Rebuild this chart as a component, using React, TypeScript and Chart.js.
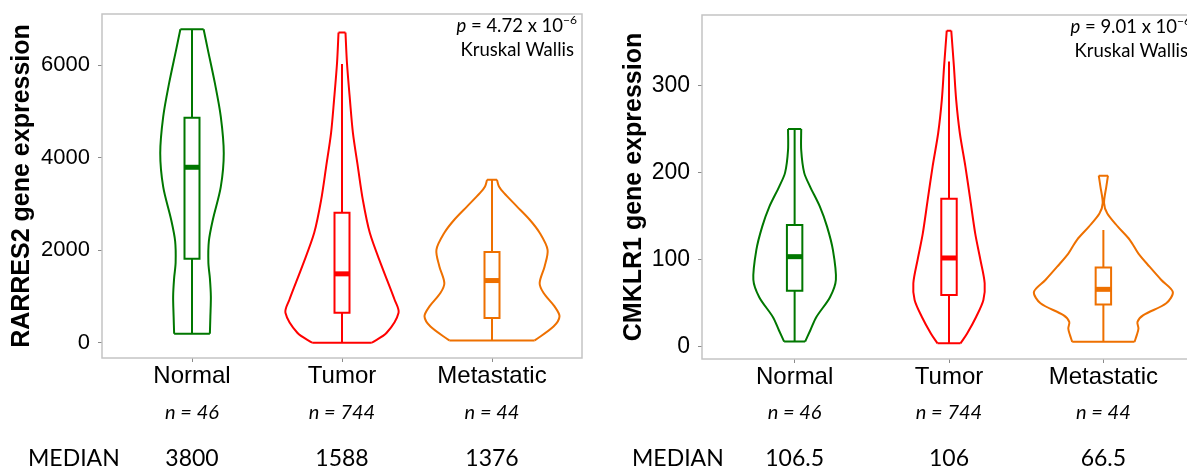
import React, { useEffect, useRef } from "react";
import { Chart, registerables } from "chart.js";

Chart.register(...registerables);

// ---------- shared categories ----------
const categories = ["Normal", "Tumor", "Metastatic"];
const sampleCounts = ["n = 46", "n = 744", "n = 44"];
const groupColors = ["#007700", "#ff0000", "#ee7000"];

// ---------- RARRES2 (left) ----------
const rarresTicks = [0, 2000, 4000, 6000];
const rarresMedianLabels = ["3800", "1588", "1376"];
const rarresPMantissa = "4.72";
const rarresPExponent = "−6";

const rarresNormalLevels = [195, 560, 1000, 1400, 1730, 2200, 2660, 3370, 4100, 4890, 5620, 6335, 6780];
const rarresNormalDensity = [18, 18.5, 19, 18, 16.5, 17, 21, 29, 32, 29, 23, 16, 11.7];
const rarresTumorLevels = [0, 216, 649, 930, 1657, 2378, 3090, 3805, 4540, 5254, 6050, 6710];
const rarresTumorDensity = [30, 45, 57, 53, 40, 28, 21, 16, 11, 8, 5, 3.5];
const rarresMetaLevels = [50, 350, 570, 786, 1075, 1290, 1650, 2010, 2378, 2660, 2950, 3240, 3380, 3524];
const rarresMetaDensity = [43, 62, 68, 63, 52, 48, 53, 56, 48, 38, 25, 12, 7, 5];

// [lower whisker, Q1, median, Q3, upper whisker]
const rarresNormalBox = [195, 1816, 3795, 4865, 6780];
const rarresTumorBox = [0, 650, 1490, 2811, 6030];
const rarresMetaBox = [50, 534, 1345, 1960, 3524];

// ---------- CMKLR1 (right) ----------
const cmklrTicks = [0, 100, 200, 300];
const cmklrMedianLabels = ["106.5", "106", "66.5"];
const cmklrPMantissa = "9.01";
const cmklrPExponent = "−6";

const cmklrNormalLevels = [6, 19, 34, 57, 77, 111, 138, 161, 184, 200, 226, 250];
const cmklrNormalDensity = [10.7, 16, 22, 36, 42, 39, 33, 25.7, 15.7, 9.7, 6.7, 6.7];
const cmklrTumorLevels = [4, 15, 34.5, 53.7, 73, 99.7, 130, 168.6, 207, 245.5, 283.5, 322, 363];
const cmklrTumorDensity = [11.7, 18.3, 27.7, 35, 36.3, 32, 26.7, 21.7, 16.7, 11, 7.3, 5, 2.3];
const cmklrMetaLevels = [5.7, 13.4, 21, 28.7, 36.4, 50, 63, 76.7, 92, 107, 122.6, 138, 153, 165, 184, 196.5];
const cmklrMetaDensity = [31.7, 34, 35.7, 34.7, 40.7, 64, 70.7, 59, 47, 35.7, 27, 14.7, 4, 0.7, 3, 4.7];

const cmklrNormalBox = [6, 64.4, 103.5, 140, 250];
const cmklrTumorBox = [4, 59.4, 102, 170, 327.6];
const cmklrMetaBox = [5.7, 48.7, 66, 91, 134];

// ---------- styling constants ----------
const VIOLIN_HALF = 0.45;
const BOX_HALF = 0.05;
const SANS = "'Liberation Sans', Arial, sans-serif";
const NOTE = "Lato, 'Open Sans', sans-serif";

type Pt = { x: number; y: number | null };

function violinDatasets(center: number, levels: number[], dens: number[], maxD: number, color: string) {
  const w = dens.map((d) => (d / maxD) * VIOLIN_HALF);
  const right: Pt[] = levels.map((y, i) => ({ x: center + w[i], y }));
  const left: Pt[] = levels.map((y, i) => ({ x: center - w[i], y }));
  const n = levels.length - 1;
  const base = {
    type: "scatter" as const,
    showLine: true,
    pointRadius: 0,
    pointHoverRadius: 0,
    borderColor: color,
    borderWidth: 2,
    fill: false,
    spanGaps: false,
  };
  return [
    { ...base, data: [...right, { x: center, y: null }, ...left], tension: 0.3 },
    {
      ...base,
      tension: 0,
      data: [
        { x: center - w[0], y: levels[0] },
        { x: center + w[0], y: levels[0] },
        { x: center, y: null },
        { x: center - w[n], y: levels[n] },
        { x: center + w[n], y: levels[n] },
      ],
    },
  ];
}

function boxDatasets(center: number, box: number[], color: string) {
  const [lo, q1, med, q3, hi] = box;
  const base = {
    type: "scatter" as const,
    showLine: true,
    pointRadius: 0,
    pointHoverRadius: 0,
    borderColor: color,
    fill: false,
    tension: 0,
    spanGaps: false,
  };
  return [
    {
      ...base,
      borderWidth: 2,
      borderJoinStyle: "miter" as const,
      data: [
        { x: center - BOX_HALF, y: q1 },
        { x: center + BOX_HALF, y: q1 },
        { x: center + BOX_HALF, y: q3 },
        { x: center - BOX_HALF, y: q3 },
        { x: center - BOX_HALF, y: q1 },
        { x: center + BOX_HALF, y: q1 },
      ],
    },
    {
      ...base,
      borderWidth: 2,
      data: [
        { x: center, y: lo },
        { x: center, y: q1 },
        { x: center, y: null },
        { x: center, y: q3 },
        { x: center, y: hi },
      ],
    },
    {
      ...base,
      borderWidth: 5,
      data: [
        { x: center - BOX_HALF, y: med },
        { x: center + BOX_HALF, y: med },
      ],
    },
  ];
}

type PanelCfg = {
  width: number;
  areaLeft: number;
  areaRight: number;
  areaTop: number;
  areaBottom: number;
  yMin: number;
  yMax: number;
  ticks: number[];
  tickFont: number;
  title: string;
  titleCenter: number;
  levels: number[][];
  dens: number[][];
  boxes: number[][];
  medians: string[];
  pMantissa: string;
  pExponent: string;
  medianX: number;
};

const HEIGHT = 468;

function buildChart(canvas: HTMLCanvasElement, cfg: PanelCfg) {
  const maxD = Math.max(...cfg.dens.map((d) => Math.max(...d)));
  const datasets: any[] = [];
  categories.forEach((_, i) => {
    datasets.push(...violinDatasets(i + 1, cfg.levels[i], cfg.dens[i], maxD, groupColors[i]));
    datasets.push(...boxDatasets(i + 1, cfg.boxes[i], groupColors[i]));
  });

  const borderPlugin = {
    id: "panelBorder",
    beforeDatasetsDraw(chart: any) {
      const { ctx, chartArea } = chart;
      ctx.save();
      ctx.strokeStyle = "#c4c4c4";
      ctx.lineWidth = 1.5;
      ctx.strokeRect(chartArea.left, chartArea.top, chartArea.right - chartArea.left, chartArea.bottom - chartArea.top);
      ctx.restore();
    },
  };

  const notesPlugin = {
    id: "notes",
    afterDraw(chart: any) {
      const { ctx, chartArea } = chart;
      const xs = chart.scales.x;
      ctx.save();
      ctx.fillStyle = "#000";
      ctx.textBaseline = "alphabetic";
      // n row
      ctx.font = `italic 20px ${NOTE}`;
      ctx.textAlign = "center";
      sampleCounts.forEach((t, i) => ctx.fillText(t, xs.getPixelForValue(i + 1), 419));
      // median row
      ctx.font = `23px ${NOTE}`;
      cfg.medians.forEach((t, i) => ctx.fillText(t, xs.getPixelForValue(i + 1), 466));
      ctx.textAlign = "left";
      ctx.fillText("MEDIAN", cfg.medianX, 466);
      // p value
      const rightX = chartArea.right - 5;
      const fs = 18.5;
      ctx.font = `${fs}px ${NOTE}`;
      const mid = ` = ${cfg.pMantissa} x 10`;
      const wMid = ctx.measureText(mid).width;
      ctx.font = `12px ${NOTE}`;
      const wSup = ctx.measureText(cfg.pExponent).width;
      ctx.font = `italic ${fs}px ${NOTE}`;
      const wP = ctx.measureText("p").width;
      let x0 = rightX - (wP + wMid + wSup);
      const pBase = chartArea.top + 18;
      ctx.fillText("p", x0, pBase);
      x0 += wP;
      ctx.font = `${fs}px ${NOTE}`;
      ctx.fillText(mid, x0, pBase);
      x0 += wMid;
      ctx.font = `12px ${NOTE}`;
      ctx.fillText(cfg.pExponent, x0, pBase - 8);
      ctx.font = `${fs}px ${NOTE}`;
      ctx.textAlign = "right";
      ctx.fillText("Kruskal Wallis", rightX - 3, chartArea.top + 42);
      ctx.restore();
    },
  };

  return new Chart(canvas, {
    type: "scatter",
    data: { datasets },
    options: {
      animation: false,
      responsive: false,
      events: [],
      layout: {
        padding: { left: 0, top: cfg.areaTop, right: cfg.width - cfg.areaRight, bottom: 0 },
      },
      plugins: { legend: { display: false }, tooltip: { enabled: false } },
      scales: {
        x: {
          type: "linear",
          min: 0.4,
          max: 3.6,
          afterBuildTicks: (s: any) => {
            s.ticks = categories.map((_, i) => ({ value: i + 1 }));
          },
          afterFit: (s: any) => {
            s.height = HEIGHT - cfg.areaBottom;
            s.paddingLeft = 0;
            s.paddingRight = 0;
          },
          ticks: {
            callback: (v: any) => categories[Math.round(Number(v)) - 1] ?? "",
            font: { family: SANS, size: 24 },
            color: "#000",
            padding: 0,
            autoSkip: false,
            maxRotation: 0,
          },
          grid: { drawOnChartArea: false, drawTicks: true, tickLength: 4, color: "#8a8a8a", lineWidth: 1 },
          border: { display: false },
        },
        y: {
          type: "linear",
          min: cfg.yMin,
          max: cfg.yMax,
          afterBuildTicks: (s: any) => {
            s.ticks = cfg.ticks.map((v) => ({ value: v }));
          },
          afterFit: (s: any) => {
            s.width = cfg.areaLeft;
            s.paddingTop = 0;
            s.paddingBottom = 0;
          },
          ticks: {
            font: { family: SANS, size: cfg.tickFont },
            color: "#000",
            padding: 8,
            callback: (v: any) => String(v),
          },
          grid: { drawOnChartArea: false, drawTicks: true, tickLength: 4, color: "#8a8a8a", lineWidth: 1 },
          border: { display: false },
          title: {
            display: true,
            text: cfg.title,
            color: "#000",
            font: { family: SANS, size: 25, weight: "bold", lineHeight: 1 },
            padding: { top: cfg.titleCenter - 12.5, bottom: 0 },
          },
        },
      },
    },
    plugins: [borderPlugin, notesPlugin],
  } as any);
}

const leftCfg: PanelCfg = {
  width: 595,
  areaLeft: 102,
  areaRight: 582,
  areaTop: 14,
  areaBottom: 358,
  yMin: -330,
  yMax: 7110,
  ticks: rarresTicks,
  tickFont: 22,
  title: "RARRES2 gene expression",
  titleCenter: 22,
  levels: [rarresNormalLevels, rarresTumorLevels, rarresMetaLevels],
  dens: [rarresNormalDensity, rarresTumorDensity, rarresMetaDensity],
  boxes: [rarresNormalBox, rarresTumorBox, rarresMetaBox],
  medians: rarresMedianLabels,
  pMantissa: rarresPMantissa,
  pExponent: rarresPExponent,
  medianX: 28,
};

const rightCfg: PanelCfg = {
  width: 620,
  areaLeft: 102,
  areaRight: 596,
  areaTop: 15,
  areaBottom: 359,
  yMin: -14,
  yMax: 381,
  ticks: cmklrTicks,
  tickFont: 23,
  title: "CMKLR1 gene expression",
  titleCenter: 34,
  levels: [cmklrNormalLevels, cmklrTumorLevels, cmklrMetaLevels],
  dens: [cmklrNormalDensity, cmklrTumorDensity, cmklrMetaDensity],
  boxes: [cmklrNormalBox, cmklrTumorBox, cmklrMetaBox],
  medians: cmklrMedianLabels,
  pMantissa: cmklrPMantissa,
  pExponent: cmklrPExponent,
  medianX: 32,
};

function Panel({ cfg, left }: { cfg: PanelCfg; left: number }) {
  const ref = useRef<HTMLCanvasElement | null>(null);
  useEffect(() => {
    if (!ref.current) return;
    const chart = buildChart(ref.current, cfg);
    return () => chart.destroy();
  }, [cfg]);
  return (
    <canvas
      ref={ref}
      width={cfg.width}
      height={HEIGHT}
      style={{ position: "absolute", left, top: 0, width: cfg.width, height: HEIGHT, display: "block" }}
    />
  );
}

export default function App() {
  return (
    <div
      style={{
        position: "fixed",
        left: 0,
        top: 0,
        width: "100vw",
        height: "100vh",
        overflow: "hidden",
        background: "#fff",
      }}
    >
      <Panel cfg={leftCfg} left={0} />
      <Panel cfg={rightCfg} left={600} />
    </div>
  );
}
